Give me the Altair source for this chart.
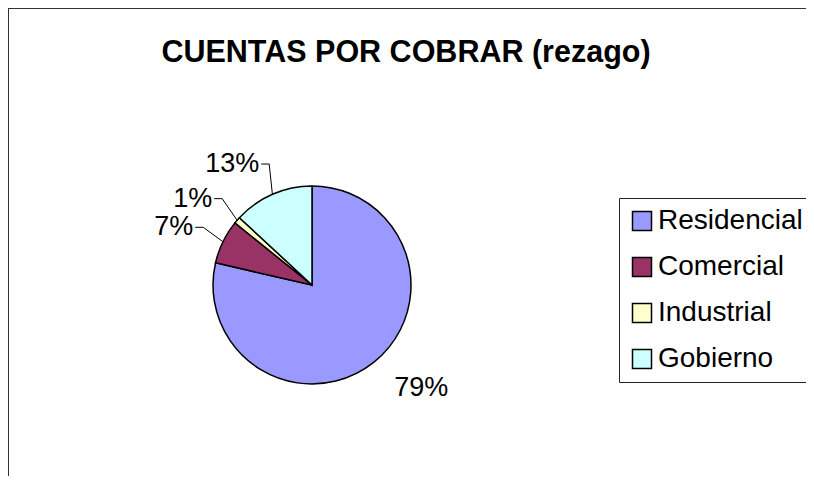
import altair as alt
import pandas as pd

# ---- data ----
categories = ["Residencial", "Comercial", "Industrial", "Gobierno"]
values = [78.6, 7.2, 1.1, 13.1]
labels = ["79%", "7%", "1%", "13%"]
colors = ["#9999FF", "#993366", "#FFFFCC", "#CCFFFF"]
title_text = "CUENTAS POR COBRAR (rezago)"

df = pd.DataFrame({"cat": categories, "val": values, "lab": labels,
                   "idx": list(range(len(categories)))})

# ---- layout ----
W, H = 798, 468
CX, CY = 304, 277
R = 99
RL = 132
FONT = "Liberation Sans"

base = alt.Chart(df)

pie = base.mark_arc(outerRadius=R, stroke="black", strokeWidth=1.5).encode(
    theta=alt.Theta("val:Q", stack=True),
    order=alt.Order("idx:Q"),
    color=alt.Color(
        "cat:N",
        scale=alt.Scale(domain=categories, range=colors),
        legend=alt.Legend(
            orient="none", legendX=611, legendY=190, title=None,
            symbolType="square", symbolSize=361, symbolStrokeColor="black",
            symbolStrokeWidth=1.5, symbolOpacity=1,
            labelFont=FONT, labelFontSize=28, labelColor="black",
            labelOffset=2, labelLimit=400,
            rowPadding=18, padding=9, strokeColor="#222",
        ),
    ),
    x=alt.value(CX),
    y=alt.value(CY),
)

geo = (
    base.transform_window(cum="sum(val)", sort=[alt.SortField("idx")], frame=[None, 0])
    .transform_joinaggregate(total="sum(val)")
    .transform_calculate(mid="(datum.cum - datum.val/2)/datum.total*2*PI")
    .transform_calculate(
        ex=f"{CX}+{R}*sin(datum.mid)",
        ey=f"{CY}-{R}*cos(datum.mid)",
        lx=f"{CX}+{RL}*sin(datum.mid)",
        ly=f"{CY}-{RL}*cos(datum.mid)",
        side="sin(datum.mid) < 0 ? 'L' : 'R'",
    )
    .transform_calculate(
        hx0="datum.lx + 2",
        kx="datum.lx + 10",
    )
)

txt_kw = dict(baseline="middle", fontSize=27, font=FONT, color="black")
lab_left = geo.transform_filter("datum.side == 'L'").mark_text(align="right", **txt_kw).encode(
    x=alt.X("lx:Q", scale=None, axis=None),
    y=alt.Y("ly:Q", scale=None, axis=None),
    text="lab:N",
)
lab_right = geo.transform_filter("datum.side == 'R'").mark_text(align="left", **txt_kw).encode(
    x=alt.X("lx:Q", scale=None, axis=None),
    y=alt.Y("ly:Q", scale=None, axis=None),
    text="lab:N",
)

lead_h = geo.transform_filter("datum.side == 'L'").mark_rule(color="black", strokeWidth=1).encode(
    x=alt.X("hx0:Q", scale=None, axis=None),
    x2="kx:Q",
    y=alt.Y("ly:Q", scale=None, axis=None),
)
lead_d = geo.transform_filter("datum.side == 'L'").mark_rule(color="black", strokeWidth=1).encode(
    x=alt.X("kx:Q", scale=None, axis=None),
    x2="ex:Q",
    y=alt.Y("ly:Q", scale=None, axis=None),
    y2="ey:Q",
)

one = pd.DataFrame({"k": [0]})
frame_left = alt.Chart(one).mark_rule(color="#333", strokeWidth=2).encode(
    x=alt.value(0), y=alt.value(0), y2=alt.value(H))
frame_top = alt.Chart(one).mark_rule(color="#333", strokeWidth=2).encode(
    x=alt.value(0), x2=alt.value(W), y=alt.value(0))

title = alt.Chart(pd.DataFrame({"t": [title_text]})).mark_text(
    fontSize=30.5, fontWeight="bold", font=FONT, baseline="alphabetic",
    align="center", color="black"
).encode(x=alt.value(398), y=alt.value(54), text="t:N")

chart = alt.layer(
    frame_left, frame_top, title, pie, lead_h, lead_d, lab_left, lab_right
).properties(
    width=W, height=H, autosize="none", padding=0
).configure_view(stroke=None)

chart.save("out.html", embed_options={"renderer": "svg", "actions": False})
